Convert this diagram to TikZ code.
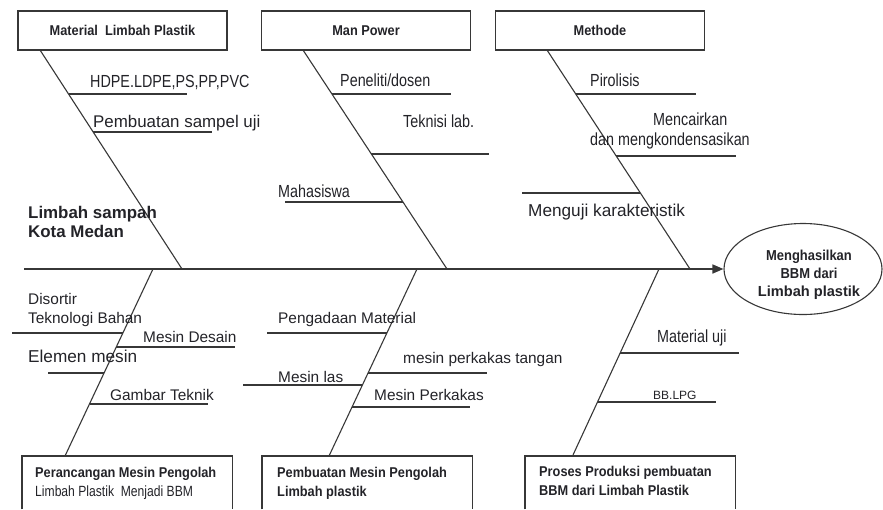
\documentclass[tikz,border=0pt]{standalone}
\usepackage{fontspec}
\setmainfont{Liberation Sans}
\newfontfamily\nar[FakeStretch=0.82]{Liberation Sans}
\newfontfamily\narb[FakeStretch=0.9]{Liberation Sans}
\usetikzlibrary{arrows.meta,shapes.geometric}
\definecolor{ln}{RGB}{55,55,55}
\definecolor{tx}{RGB}{35,35,40}
\begin{document}
\begin{tikzpicture}[x=1pt,y=-1pt,
  boxline/.style={draw=ln,line width=1.3pt},
  topbox/.style={boxline,minimum width=209pt,minimum height=39pt,inner sep=0pt,text=tx,
    font=\narb\bfseries\fontsize{14.2}{18}\selectfont},
  botbox/.style={inner sep=0pt,anchor=north west,minimum width=210pt,minimum height=53pt},
  bone/.style={draw=ln,line width=1.1pt},
  twig/.style={draw=ln,line width=1.1pt},
  spine/.style={draw=ln,line width=1.6pt},
  lbl/.style={anchor=base west,inner sep=0pt,text=tx},
  nl/.style={lbl,font=\nar\fontsize{17.5}{20}\selectfont},
  rl/.style={lbl,font=\fontsize{15.4}{19}\selectfont},
  bl/.style={lbl,align=left,font=\narb\bfseries\fontsize{14.2}{19}\selectfont}]
\useasboundingbox (0,0) rectangle (883,509);

% top boxes
\node[topbox] (m1) at (122.5,30.5) {Material\ \ Limbah Plastik};
\node[topbox] (m2) at (366,30.5) {Man Power};
\node[topbox] (m3) at (600,30.5) {Methode};

% bottom boxes
\node[botbox] (p1) at (22,456) {};
\node[botbox] (p2) at (262,456) {};
\node[botbox] (p3) at (525,456) {};
\foreach \b in {p1,p2,p3}
  \draw[boxline] (\b.south west) -- (\b.north west) -- (\b.north east) -- (\b.south east);
\node[bl] (p1t) at (35,496) {Perancangan Mesin Pengolah\\{\nar\mdseries\fontsize{14.8}{19}\selectfont Limbah Plastik\ \ Menjadi BBM}};
\node[bl] (p2t) at (277,496) {Pembuatan Mesin Pengolah\\Limbah plastik};
\node[bl] (p3t) at (539,495) {Proses Produksi pembuatan\\BBM dari Limbah Plastik};

% goal ellipse
\node[ellipse,draw=ln,line width=1.1pt,minimum width=158pt,minimum height=91pt,inner sep=0pt] (goal) at (803,269) {};
\node[anchor=base,inner sep=0pt,align=center,text=tx,font=\narb\bfseries\fontsize{14.4}{18}\selectfont] (goalt) at (809,296)
  {Menghasilkan\\BBM dari\\{\rmfamily\bfseries\fontsize{14.6}{18}\selectfont Limbah plastik}};

% spine
\coordinate (tail) at (24,269);
\draw[spine,-{Triangle[length=11pt,width=9pt]}] (tail) -- (goal.west);

% bones
\coordinate (t1) at (40,50);   \coordinate (s1) at (182,269);
\coordinate (t2) at (303,50);  \coordinate (s2) at (447,269);
\coordinate (t3) at (547,50);  \coordinate (s3) at (690,269);
\coordinate (s4) at (153,269); \coordinate (b4) at (65,456);
\coordinate (s5) at (417,269); \coordinate (b5) at (329,456);
\coordinate (s6) at (659,269); \coordinate (b6) at (573,455);
\draw[bone] (t1) -- (s1);
\draw[bone] (t2) -- (s2);
\draw[bone] (t3) -- (s3);
\draw[bone] (s4) -- (b4);
\draw[bone] (s5) -- (b5);
\draw[bone] (s6) -- (b6);

% branch 1
\coordinate (a1) at (68.5,94);  \coordinate (a1e) at (187,94);
\coordinate (a2) at (93.2,132); \coordinate (a2e) at (212,132);
\draw[twig] (a1) -- (a1e);
\draw[twig] (a2) -- (a2e);
\node[nl] (la1) at (90,87) {HDPE.LDPE,PS,PP,PVC};
\node[lbl,font=\fontsize{16.9}{20}\selectfont] (la2) at (93,127) {Pembuatan sampel uji};
\node[lbl,align=left,font=\bfseries\fontsize{16.9}{19}\selectfont] (src) at (28,237) {Limbah sampah\\Kota Medan};

% branch 2
\coordinate (c1) at (332,94);  \coordinate (c1e) at (451,94);
\coordinate (c2) at (371.4,154); \coordinate (c2e) at (489,154);
\coordinate (c3e) at (285,202); \coordinate (c3) at (402.9,202);
\draw[twig] (c1) -- (c1e);
\draw[twig] (c2) -- (c2e);
\draw[twig] (c3e) -- (c3);
\node[nl] (lc1) at (340,86) {Peneliti/dosen};
\node[nl] (lc2) at (403,127) {Teknisi lab.};
\node[nl] (lc3) at (278,197) {Mahasiswa};

% branch 3
\coordinate (d1) at (575.7,94);  \coordinate (d1e) at (696,94);
\coordinate (d2) at (616.2,156); \coordinate (d2e) at (736,156);
\coordinate (d3e) at (522,193);  \coordinate (d3) at (640.4,193);
\draw[twig] (d1) -- (d1e);
\draw[twig] (d2) -- (d2e);
\draw[twig] (d3e) -- (d3);
\node[nl] (ld1) at (590,86) {Pirolisis};
\node[nl] (ld2) at (653,125) {Mencairkan};
\node[nl] (ld2b) at (590,145) {dan mengkondensasikan};
\node[lbl,font=\fontsize{17.2}{20}\selectfont] (ld3) at (528,216) {Menguji karakteristik};

% branch 4
\coordinate (e1e) at (12,333);  \coordinate (e1) at (122.9,333);
\coordinate (e2) at (116.3,347); \coordinate (e2e) at (235,347);
\coordinate (e3e) at (48,373);  \coordinate (e3) at (104.1,373);
\coordinate (e4) at (89.5,404); \coordinate (e4e) at (208,404);
\draw[twig] (e1e) -- (e1);
\draw[twig] (e2) -- (e2e);
\draw[twig] (e3e) -- (e3);
\draw[twig] (e4) -- (e4e);
\node[rl,align=left] (le1) at (28,323) {Disortir\\Teknologi Bahan};
\node[rl] (le2) at (143,342) {Mesin Desain};
\node[lbl,font=\fontsize{17.2}{20}\selectfont] (le3) at (28,362) {Elemen mesin};
\node[rl] (le4) at (110,400) {Gambar Teknik};

% branch 5
\coordinate (f1e) at (267,333);  \coordinate (f1) at (386.9,333);
\coordinate (f2) at (368.1,373); \coordinate (f2e) at (487,373);
\coordinate (f3e) at (243,385);  \coordinate (f3) at (362.4,385);
\coordinate (f4) at (352.1,407); \coordinate (f4e) at (470,407);
\draw[twig] (f1e) -- (f1);
\draw[twig] (f2) -- (f2e);
\draw[twig] (f3e) -- (f3);
\draw[twig] (f4) -- (f4e);
\node[rl] (lf1) at (278,323) {Pengadaan Material};
\node[rl] (lf2) at (403,363) {mesin perkakas tangan};
\node[rl] (lf3) at (278,382) {Mesin las};
\node[rl] (lf4) at (374,400) {Mesin Perkakas};

% branch 6
\coordinate (g1) at (620.2,353); \coordinate (g1e) at (739,353);
\coordinate (g2) at (597.5,402); \coordinate (g2e) at (716,402);
\draw[twig] (g1) -- (g1e);
\draw[twig] (g2) -- (g2e);
\node[nl] (lg1) at (657,342) {Material\ uji};
\node[lbl,font=\fontsize{12}{14}\selectfont] (lg2) at (653,399) {BB.LPG};
\end{tikzpicture}
\end{document}
